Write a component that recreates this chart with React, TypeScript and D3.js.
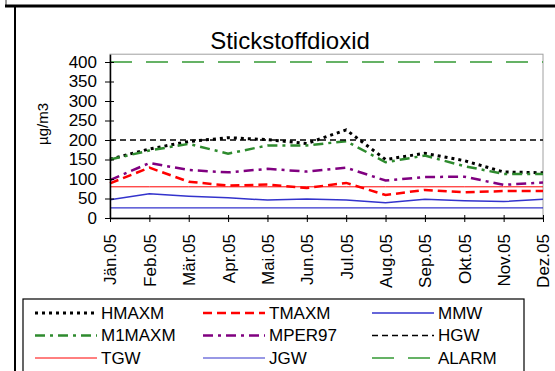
import React, { useEffect, useRef } from 'react';
import * as d3 from 'd3';

// monthly values (µg/m3)
const months = ['Jän.05', 'Feb.05', 'Mär.05', 'Apr.05', 'Mai.05', 'Jun.05', 'Jul.05', 'Aug.05', 'Sep.05', 'Okt.05', 'Nov.05', 'Dez.05'];
const hmaxm = [151, 177, 196, 206, 201, 191, 226, 150, 166, 147, 118, 116];
const tmaxm = [89, 129, 93, 83, 86, 77, 90, 59, 72, 66, 69, 69];
const mmw = [47, 62, 56, 52, 46, 49, 46, 39, 48, 44, 42, 48];
const m1maxm = [150, 173, 190, 165, 186, 186, 197, 143, 160, 133, 113, 113];
const mper97 = [97, 141, 123, 117, 126, 119, 129, 96, 105, 106, 85, 91];
const hgw = [200];
const tgw = [80];
const jgw = [26];
const alarm = [400];
const yTicks = [0, 50, 100, 150, 200, 250, 300, 350, 400];

const FONT = "'Liberation Sans', Arial, sans-serif";

// legend order is row by row
const series = [
  { name: 'HMAXM', values: hmaxm, color: '#000000', width: 3, dash: '3,4' },
  { name: 'TMAXM', values: tmaxm, color: '#ff0000', width: 2.5, dash: '9,5' },
  { name: 'MMW', values: mmw, color: '#3333cc', width: 1.5, dash: null },
  { name: 'M1MAXM', values: m1maxm, color: '#2e8b2e', width: 2.5, dash: '10,5,3,5' },
  { name: 'MPER97', values: mper97, color: '#800080', width: 2.5, dash: '10,5,3,5' },
  { name: 'HGW', values: hgw, color: '#000000', width: 1.5, dash: '6,4' },
  { name: 'TGW', values: tgw, color: '#ff0000', width: 1, dash: null },
  { name: 'JGW', values: jgw, color: '#3333cc', width: 1.2, dash: null },
  { name: 'ALARM', values: alarm, color: '#339933', width: 1.5, dash: '22,14' },
];

export default function App() {
  const ref = useRef<SVGSVGElement>(null);

  useEffect(() => {
    const svg = d3.select(ref.current);
    svg.selectAll('*').remove();

    const x = d3.scalePoint<string>().domain(months).range([110, 543]);
    const y = d3.scaleLinear().domain([0, 420]).range([218, 54.2]);

    // outer frame bits
    svg.append('line').attr('x1', 6).attr('x2', 6).attr('y1', 0).attr('y2', 6)
      .attr('stroke', '#333').attr('stroke-width', 1);
    svg.append('line').attr('x1', 5).attr('x2', 555).attr('y1', 6).attr('y2', 6)
      .attr('stroke', '#000').attr('stroke-width', 3);
    svg.append('line').attr('x1', 15).attr('x2', 15).attr('y1', 6).attr('y2', 371)
      .attr('stroke', '#000').attr('stroke-width', 2);

    svg.append('text')
      .attr('x', 290).attr('y', 49)
      .attr('text-anchor', 'middle')
      .style('font-family', FONT).style('font-size', '24px')
      .text('Stickstoffdioxid');

    // plot border
    svg.append('rect')
      .attr('x', 110).attr('y', y(420))
      .attr('width', 543 - 110).attr('height', y(0) - y(420))
      .attr('fill', 'none').attr('stroke', '#a0a0a0').attr('stroke-width', 1);

    const plot = svg.append('g');

    series.forEach(s => {
      const pts = s.values.length === 1 ? months.map(m => ({ m, v: s.values[0] })) : months.map((m, i) => ({ m, v: s.values[i] }));
      plot.append('path')
        .datum(pts)
        .attr('fill', 'none')
        .attr('stroke', s.color)
        .attr('stroke-width', s.width)
        .attr('stroke-dasharray', s.dash)
        .attr('d', d3.line<{ m: string; v: number }>()
          .x(d => x(d.m) as number)
          .y(d => y(d.v)));
    });

    // y axis
    const ya = svg.append('g')
      .attr('transform', 'translate(110,0)')
      .call(d3.axisLeft(y).tickValues(yTicks).tickSize(4).tickSizeOuter(0).tickPadding(9));
    ya.selectAll('line').attr('x1', -5).attr('x2', 4);
    ya.select('.domain').attr('stroke-width', 1.5);
    ya.selectAll('text').style('font-family', FONT).style('font-size', '17px').attr('fill', '#000');

    // x axis
    const xa = svg.append('g')
      .attr('transform', 'translate(0,218)')
      .call(d3.axisBottom(x).tickSize(4).tickSizeOuter(0));
    xa.selectAll('line').attr('y1', -3).attr('y2', 4);
    xa.select('.domain').attr('stroke-width', 1.5);
    xa.selectAll('text')
      .attr('transform', 'rotate(-90)')
      .attr('x', -16).attr('y', 0).attr('dy', '0.35em')
      .attr('text-anchor', 'end')
      .style('font-family', FONT).style('font-size', '17px').attr('fill', '#000');

    svg.append('text')
      .attr('transform', 'translate(43,124) rotate(-90)')
      .attr('text-anchor', 'middle').attr('dy', '0.35em')
      .style('font-family', FONT).style('font-size', '15px')
      .text('µg/m3');

    // legend
    const lg = svg.append('g');
    lg.append('rect').attr('x', 23).attr('y', 299).attr('width', 501).attr('height', 90)
      .attr('fill', '#fff').attr('stroke', '#000').attr('stroke-width', 1.2);
    const colX = [35, 203, 372];
    series.forEach((s, i) => {
      const cx = colX[i % 3];
      const cy = 313 + Math.floor(i / 3) * 22.5;
      lg.append('line').attr('x1', cx).attr('x2', cx + 62).attr('y1', cy).attr('y2', cy)
        .attr('stroke', s.color).attr('stroke-width', s.width)
        .attr('stroke-dasharray', s.dash);
      lg.append('text').attr('x', cx + 66).attr('y', cy).attr('dy', '0.35em')
        .style('font-family', FONT).style('font-size', '17px')
        .text(s.name);
    });
  }, []);

  return (
    <div style={{ position: 'fixed', left: 0, top: 0 }}>
      <svg ref={ref} width={555} height={371} style={{ display: 'block', background: '#fff' }} />
    </div>
  );
}
